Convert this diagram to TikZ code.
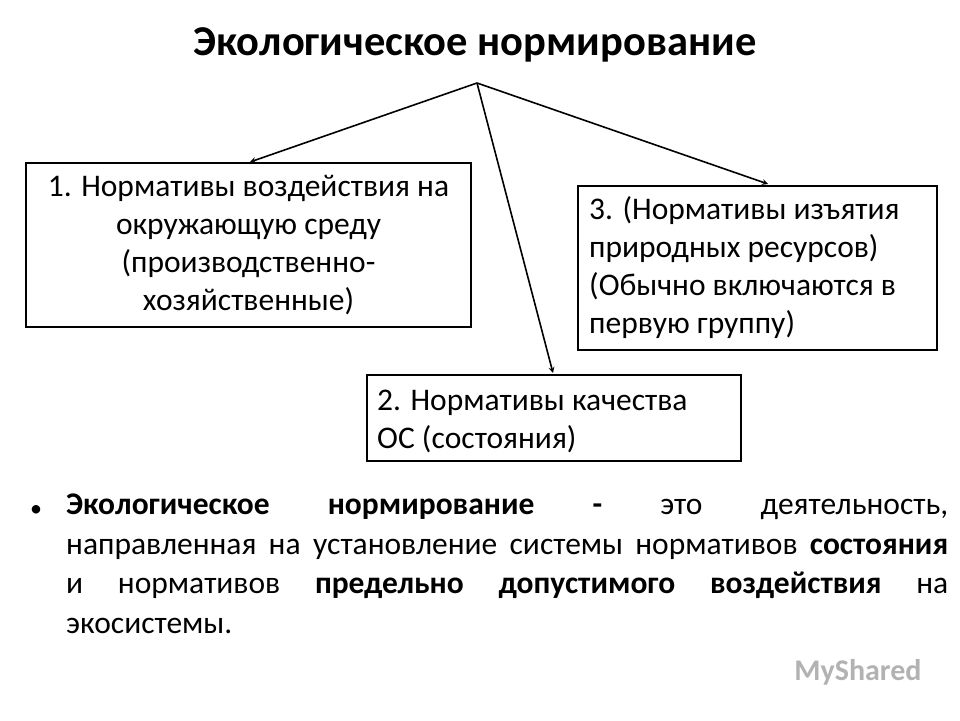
\documentclass[tikz,border=0pt]{standalone}
\usepackage{fontspec}
\setmainfont{Carlito}
\begin{document}
\begin{tikzpicture}[x=1pt,y=-1pt,
 box/.style={draw,line width=1.5pt,inner sep=0pt},
 txt/.style={font=\fontsize{31.5}{38}\selectfont,inner sep=0pt},
 arr/.style={-stealth,line width=1.6pt}]
\useasboundingbox (0,0) rectangle (960,720);
\node[font=\fontsize{42.5}{48}\selectfont\bfseries] (t) at (475,45) {Экологическое нормирование};
\coordinate (o) at (477,83);
\draw[box] (26,163) rectangle (471,327);
\node[txt,align=center] (b1) at (248.5,245) {1. Нормативы воздействия на\\окружающую среду\\(производственно-\\хозяйственные)};
\draw[box] (578,186) rectangle (937,350);
\node[txt,align=left,anchor=west] (b3) at (589,268) {3. (Нормативы изъятия\\природных ресурсов)\\(Обычно включаются в\\первую группу)};
\draw[box] (367,375) rectangle (741,461);
\node[txt,align=left,anchor=west] (b2) at (377,421) {2. Нормативы качества\\ОС (состояния)};
\coordinate (e1) at (250,162);
\coordinate (e2) at (553,373);
\coordinate (e3) at (768,184);
\draw[arr] (o) -- (e1);
\draw[arr] (o) -- (e2);
\draw[arr] (o) -- (e3);
\node[font=\fontsize{24}{28}\selectfont,inner sep=0pt] (bul) at (36,511) {•};
\node[txt,anchor=north west,text width=882pt,align=justify,font=\fontsize{31.5}{39.5}\selectfont] (p) at (66,494) {\textbf{Экологическое нормирование -} это деятельность,\linebreak направленная на установление системы нормативов \textbf{состояния}\linebreak и нормативов \textbf{предельно допустимого воздействия} на\linebreak экосистемы.};
\node[font=\fontsize{30}{34}\selectfont\bfseries,text=gray!60,anchor=east] (w) at (925,672) {MyShared};
\end{tikzpicture}
\end{document}
